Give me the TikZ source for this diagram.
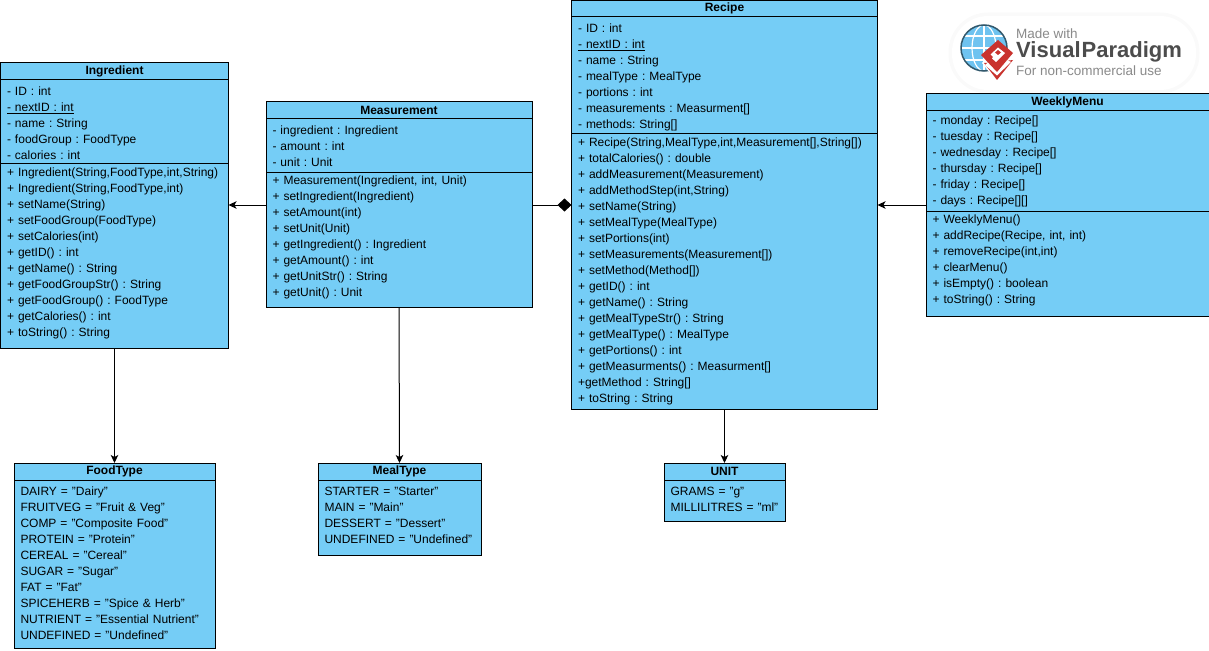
\documentclass[tikz,border=0pt]{standalone}
\usepackage{fontspec}
\setmainfont{Liberation Sans}
\usepackage{tikz}
\usetikzlibrary{arrows.meta,positioning,calc}
\definecolor{classblue}{HTML}{75CDF6}
\definecolor{logored}{HTML}{C9332E}
\definecolor{logogrey}{HTML}{8A8A8A}
\definecolor{logoblue}{HTML}{6FC3F0}
\tikzstyle{classhead}=[draw,fill=classblue,line width=1pt,outer sep=0pt,inner sep=0pt,font=\fontsize{12}{16}\selectfont\bfseries]
\tikzstyle{classbody}=[draw,fill=classblue,line width=1pt,outer sep=0pt,inner xsep=6.5pt,inner ysep=0pt,align=left,font=\fontsize{12}{16}\selectfont]
\tikzstyle{link}=[line width=1pt,-{Stealth[length=8pt,width=7.5pt,inset=2pt]}]
\tikzstyle{whole}=[line width=1pt,-{Diamond[length=14pt,width=13pt]}]
\tikzset{tail/.style={execute at end node=\par\vspace{#1pt}}}
\frenchspacing

\begin{document}
\begin{tikzpicture}[x=1pt,y=-1pt]
\useasboundingbox (0,0) rectangle (1209,650);
\coordinate (linkrow) at (0,205);

% logo
\draw [black!2,fill=black!2,line width=3pt,rounded corners=38pt] (950,14) rectangle (1198,92);
\fill [white,rounded corners=36pt] (952,16) rectangle (1196,90);
\fill [logoblue] (984,48) circle (23);
\draw [white,line width=1.2pt] (984,25) -- (984,71) (961,48) -- (1007,48) (965,36) -- (1003,36) (965,60) -- (1003,60);
\draw [white,line width=1.2pt] (984,48) ellipse (12 and 23);
\draw [black!55!logoblue,line width=1.5pt] (984,48) circle (23);
\fill [white] (997,82) -- (982,63) -- (998,44) -- (1015,60) -- cycle;
\fill [logored] (997,80) -- (984,63) -- (997,62) -- (1013,60) -- cycle;
\fill [white] (997,75.5) -- (985,65) -- (997,55) -- (1011,62) -- cycle;
\fill [logored] (997,72) -- (981,55) -- (998,40) -- (1013,53) -- cycle;
\fill [white] (996,62) -- (992,58.5) -- (993,57) -- (990.5,54.5) -- (998,47.5) -- (1005,53) -- (999,59) -- cycle;
\fill [logored] (998,55) -- (995,52.5) -- (998,50) -- (1001,52.5) -- cycle;
\node [text=logogrey,font=\fontsize{13.5}{15}\selectfont,anchor=west,inner sep=0pt] (logotop) at (1016,34) {Made with};
\node [text=black!70,font=\fontsize{22}{26}\selectfont\bfseries,anchor=west,inner sep=0pt] (logoname) at (1016,52) {Visual\hspace{1pt}Paradigm};
\node [text=logogrey,font=\fontsize{13.5}{15}\selectfont,anchor=west,inner sep=0pt] (logobottom) at (1016,71) {For non-commercial use};

% Ingredient
\node [classhead,anchor=north,minimum width=228pt,minimum height=17pt] (ingredient) at (114.5,62.5) {Ingredient};
\node [classbody,below=0pt of ingredient,text width=215pt,minimum height=84pt,tail=-4] (ingredientattr) {%
- ID : int\\
\underline{- nextID : int}\\
- name : String\\
- foodGroup : FoodType\\
- calories : int};
\node [classbody,below=0pt of ingredientattr,text width=215pt,minimum height=185pt,tail=5] (ingredientmeth) {%
+ Ingredient(String,FoodType,int,String)\\
+ Ingredient(String,FoodType,int)\\
+ setName(String)\\
+ setFoodGroup(FoodType)\\
+ setCalories(int)\\
+ getID() : int\\
+ getName() : String\\
+ getFoodGroupStr() : String\\
+ getFoodGroup() : FoodType\\
+ getCalories() : int\\
+ toString() : String};

% Measurement
\node [classhead,anchor=north,minimum width=266pt,minimum height=17pt] (measurement) at (399,102) {Measurement};
\node [classbody,below=0pt of measurement,text width=253pt,minimum height=53pt,tail=-2] (measurementattr) {%
- ingredient : Ingredient\\
- amount : int\\
- unit : Unit};
\node [classbody,below=0pt of measurementattr,text width=253pt,minimum height=135pt,tail=5] (measurementmeth) {%
+ Measurement(Ingredient, int, Unit)\\
+ setIngredient(Ingredient)\\
+ setAmount(int)\\
+ setUnit(Unit)\\
+ getIngredient() : Ingredient\\
+ getAmount() : int\\
+ getUnitStr() : String\\
+ getUnit() : Unit};

% Recipe
\node [classhead,anchor=north,minimum width=306pt,minimum height=16pt] (recipe) at (724.5,0.5) {Recipe};
\node [classbody,below=0pt of recipe,text width=293pt,minimum height=116.5pt,tail=-6] (recipeattr) {%
- ID : int\\
\underline{- nextID : int}\\
- name : String\\
- mealType : MealType\\
- portions : int\\
- measurements : Measurment[]\\
- methods: String[]};
\node [classbody,below=0pt of recipeattr,text width=293pt,minimum height=276pt] (recipemeth) {%
+ Recipe(String,MealType,int,Measurement[],String[])\\
+ totalCalories() : double\\
+ addMeasurement(Measurement)\\
+ addMethodStep(int,String)\\
+ setName(String)\\
+ setMealType(MealType)\\
+ setPortions(int)\\
+ setMeasurements(Measurement[])\\
+ setMethod(Method[])\\
+ getID() : int\\
+ getName() : String\\
+ getMealTypeStr() : String\\
+ getMealType() : MealType\\
+ getPortions() : int\\
+ getMeasurments() : Measurment[]\\
+getMethod : String[]\\
+ toString : String};

% WeeklyMenu
\node [classhead,anchor=north,minimum width=283pt,minimum height=17pt] (weeklymenu) at (1067.5,93.5) {WeeklyMenu};
\node [classbody,below=0pt of weeklymenu,text width=270pt,minimum height=101pt] (weeklymenuattr) {%
- monday : Recipe[]\\
- tuesday : Recipe[]\\
- wednesday : Recipe[]\\
- thursday : Recipe[]\\
- friday : Recipe[]\\
- days : Recipe[][]};
\node [classbody,below=0pt of weeklymenuattr,text width=270pt,minimum height=105pt,tail=7] (weeklymenumeth) {%
+ WeeklyMenu()\\
+ addRecipe(Recipe, int, int)\\
+ removeRecipe(int,int)\\
+ clearMenu()\\
+ isEmpty() : boolean\\
+ toString() : String};

% FoodType
\node [classhead,anchor=north,minimum width=201pt,minimum height=17pt] (foodtype) at (114.5,463) {FoodType};
\node [classbody,below=0pt of foodtype,text width=188pt,minimum height=168pt,tail=1] (foodtypeattr) {%
DAIRY = "Dairy"\\
FRUITVEG = "Fruit \& Veg"\\
COMP = "Composite Food"\\
PROTEIN = "Protein"\\
CEREAL = "Cereal"\\
SUGAR = "Sugar"\\
FAT = "Fat"\\
SPICEHERB = "Spice \& Herb"\\
NUTRIENT = "Essential Nutrient"\\
UNDEFINED = "Undefined"};

% MealType
\node [classhead,anchor=north,minimum width=163pt,minimum height=17pt] (mealtype) at (399.5,463) {MealType};
\node [classbody,below=0pt of mealtype,text width=150pt,minimum height=75pt,tail=5] (mealtypeattr) {%
STARTER = "Starter"\\
MAIN = "Main"\\
DESSERT = "Dessert"\\
UNDEFINED = "Undefined"};

% UNIT
\node [classhead,anchor=north,minimum width=121pt,minimum height=17pt] (unit) at (724.5,463) {UNIT};
\node [classbody,below=0pt of unit,text width=108pt,minimum height=41pt,tail=3] (unitattr) {%
GRAMS = "g"\\
MILLILITRES = "ml"};

% connectors
\draw [link] (measurementmeth.west |- linkrow) -- (ingredientmeth.east |- linkrow);
\draw [whole] (measurementmeth.east |- linkrow) -- (recipemeth.west |- linkrow);
\draw [link] (weeklymenumeth.west |- linkrow) -- (recipemeth.east |- linkrow);
\draw [link] (ingredientmeth.south) -- (foodtype.north);
\draw [link] (measurementmeth.south) -- (mealtype.north);
\draw [link] (recipemeth.south) -- (unit.north);
\end{tikzpicture}
\end{document}
